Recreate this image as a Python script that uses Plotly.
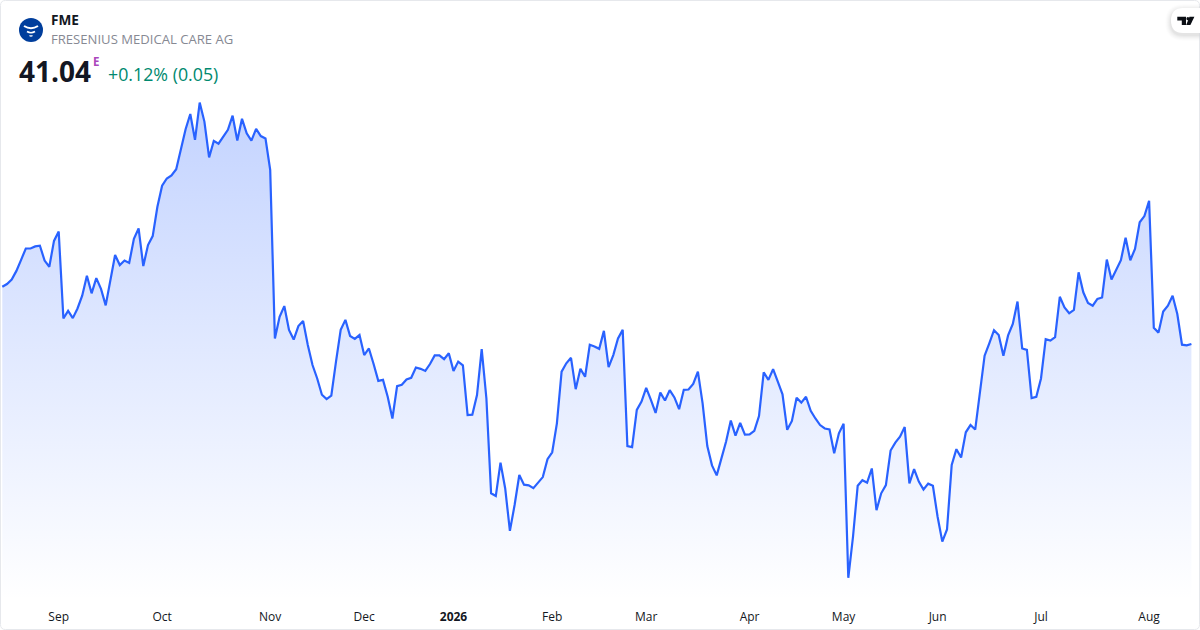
import plotly.graph_objects as go

symbol = "FME"
company = "FRESENIUS MEDICAL CARE AG"
last_price = "41.04"
change_text = "+0.12% (0.05)"
session_flag = "E"

prices = [
    42.70, 42.78, 42.91, 43.16, 43.48, 43.81, 43.81, 43.87, 43.89, 43.46, 43.28, 44.03, 44.30,
    41.78, 42.00, 41.79, 42.07, 42.44, 43.02, 42.51, 42.95, 42.64, 42.16, 42.90, 43.62, 43.33,
    43.46, 43.39, 44.09, 44.39, 43.30, 43.91, 44.17, 45.02, 45.63, 45.84, 45.93, 46.11, 46.67,
    47.27, 47.71, 46.96, 48.04, 47.49, 46.45, 46.93, 46.85, 47.07, 47.25, 47.66, 46.94, 47.57,
    47.15, 46.94, 47.28, 47.07, 47.00, 46.09, 41.20, 41.83, 42.14, 41.45, 41.17, 41.56,
    41.71, 41.01, 40.43, 40.04, 39.57, 39.44, 39.54, 40.53, 41.45, 41.74, 41.27, 41.19, 41.30,
    40.72, 40.91, 40.46, 39.97, 40.00, 39.51, 38.88, 39.82, 39.86, 40.01, 40.06, 40.36, 40.32,
    40.26, 40.46, 40.71, 40.71, 40.60, 40.77, 40.26, 40.53, 40.42, 38.98, 38.99, 39.56, 40.89,
    39.46, 36.71, 36.63, 37.60, 36.85, 35.62, 36.37, 37.24, 36.96, 36.94, 36.86, 37.02, 37.18,
    37.70, 37.90, 38.74,
    40.24, 40.48, 40.64, 39.73, 40.32, 40.09, 41.02, 40.97, 40.90, 41.42, 40.37, 40.72, 41.20,
    41.45, 38.08, 38.05, 39.13, 39.37, 39.77, 39.42, 39.04, 39.63, 39.40, 39.70, 39.49, 39.15,
    39.71, 39.72, 39.88, 40.24, 39.32, 38.08, 37.52, 37.23, 37.70, 38.21, 38.82, 38.38, 38.75,
    38.41, 38.42, 38.52, 38.95, 40.22, 40.00, 40.31, 39.95, 39.58, 38.55, 38.81, 39.48, 39.34,
    39.51, 39.10, 38.88, 38.69, 38.59, 38.56, 37.87, 38.45, 38.73,
    34.26, 35.45, 36.93, 37.09, 37.02, 37.43, 36.22, 36.71, 36.95, 37.95, 38.18, 38.35, 38.63,
    37.00, 37.41, 37.05, 36.82, 36.99, 36.93, 36.03, 35.31, 35.66, 37.53, 37.99, 37.75, 38.48,
    38.69, 38.56, 39.61, 40.70, 41.06, 41.44, 41.30, 40.70, 41.29, 41.62, 42.27, 40.91, 40.87,
    39.47, 39.51, 40.04, 41.18, 41.14, 41.24, 42.41, 42.10, 41.93, 42.03, 43.12, 42.54, 42.23,
    42.15, 42.35, 42.39, 43.49, 42.91, 43.17, 43.47, 44.12, 43.47, 43.80, 44.57, 44.75, 45.19,
    41.51, 41.37, 41.98, 42.15, 42.44, 41.91, 41.02, 41.00, 41.04,
]
session_index = list(range(len(prices)))

tick_sessions = [12, 34, 57, 77, 96, 117, 137, 159, 179, 199, 221, 244]
tick_labels = ["Sep", "Oct", "Nov", "Dec", "<b>2026</b>", "Feb", "Mar", "Apr", "May", "Jun", "Jul", "Aug"]

W, H = 1200, 630
MARGIN_B = 30
PLOT_H = H - MARGIN_B
FONT = "Open Sans"
LINE = "#2962FF"


# paper coordinates span the plot area, not the whole figure
def px(x):
    return x / W


def py(y):
    return (PLOT_H - y) / PLOT_H


def path(*parts):
    out = []
    for p in parts:
        if isinstance(p, str):
            out.append(p)
        else:
            out.append(f"{px(p[0]):.5f},{py(p[1]):.5f}")
    return " ".join(out)


fig = go.Figure()
fig.add_trace(go.Scatter(
    x=session_index,
    y=prices,
    mode="lines",
    line=dict(color=LINE, width=2.2, shape="linear"),
    fill="tozeroy",
    fillgradient=dict(
        type="vertical",
        start=max(prices),
        stop=33.616,
        colorscale=[[0, "rgba(41,98,255,0.28)"], [1, "rgba(41,98,255,0)"]],
    ),
    hoverinfo="skip",
    showlegend=False,
))


def note(text, x, y, size, color):
    fig.add_annotation(
        xref="paper", yref="paper", x=px(x), y=py(y), text=text, showarrow=False,
        xanchor="left", yanchor="middle", align="left", borderpad=0, xshift=-1,
        font=dict(family=FONT, size=size, color=color),
    )


note(f"<b>{symbol}</b>", 51, 20, 13.6, "#131722")
note(company, 51, 39.5, 13.1, "#868993")
note(f"<b>{last_price}</b>", 19, 71, 28, "#131722")
note(f"<b>{session_flag}</b>", 93, 61.5, 11.5, "#AB47BC")
note(change_text, 108, 74, 17.8, "#00896F")

shapes = []
# card border
r = 5
shapes.append(dict(
    type="path", xref="paper", yref="paper", layer="above",
    path=path("M", (0.5 + r, 0.5), "L", (W - 0.5 - r, 0.5), "Q", (W - 0.5, 0.5), (W - 0.5, 0.5 + r),
              "L", (W - 0.5, H - 0.5 - r), "Q", (W - 0.5, H - 0.5), (W - 0.5 - r, H - 0.5),
              "L", (0.5 + r, H - 0.5), "Q", (0.5, H - 0.5), (0.5, H - 0.5 - r),
              "L", (0.5, 0.5 + r), "Q", (0.5, 0.5), (0.5 + r, 0.5), "Z"),
    line=dict(color="#E6E8EC", width=1), fillcolor="rgba(0,0,0,0)",
))
# logo disc
shapes.append(dict(
    type="circle", xref="paper", yref="paper", layer="above",
    x0=px(19), x1=px(43), y0=py(42), y1=py(18),
    fillcolor="#003E9C", line=dict(width=0),
))
# logo funnel strokes
for x0, x1, y0, dip, w in [(24, 38, 26, 4.5, 2), (27, 35, 31.5, 2.5, 1.6), (29.5, 32.5, 35.5, 1.2, 1.4)]:
    shapes.append(dict(
        type="path", xref="paper", yref="paper", layer="above",
        path=path("M", (x0, y0), "Q", ((x0 + x1) / 2, y0 + dip), (x1, y0)),
        line=dict(color="#FFFFFF", width=w), fillcolor="rgba(0,0,0,0)",
    ))
# TradingView badge: soft shadow, white pill, glyph
for grow, alpha in [(6, 0.008), (5, 0.012), (4, 0.016), (3, 0.02), (2, 0.024), (1, 0.028)]:
    shapes.append(dict(
        type="path", xref="paper", yref="paper", layer="above",
        path=path("M", (W - 0.5, 8 - grow + 2), "L", (1183, 8 - grow + 2),
                  "Q", (1171 - grow, 8 - grow + 2), (1171 - grow, 20.5 + 2),
                  "Q", (1171 - grow, 33 + grow + 2), (1183, 33 + grow + 2),
                  "L", (W - 0.5, 33 + grow + 2), "Z"),
        fillcolor=f"rgba(0,0,0,{alpha})", line=dict(width=0),
    ))
shapes.append(dict(
    type="path", xref="paper", yref="paper", layer="above",
    path=path("M", (W, 8), "L", (1183, 8), "Q", (1171, 8), (1171, 20.5),
              "Q", (1171, 33), (1183, 33), "L", (W, 33), "Z"),
    fillcolor="#FFFFFF", line=dict(width=0),
))
shapes.append(dict(
    type="path", xref="paper", yref="paper", layer="above",
    path=path("M", (1177.3, 16.8), "L", (1186, 16.8), "L", (1186, 25), "L", (1181.8, 25),
              "L", (1181.8, 20.4), "L", (1177.3, 20.4), "Z"),
    fillcolor="#0B0E14", line=dict(width=0),
))
shapes.append(dict(
    type="path", xref="paper", yref="paper", layer="above",
    path=path("M", (1189.5, 16.8), "L", (1194.4, 16.8), "L", (1190.4, 25), "L", (1186.2, 25), "Z"),
    fillcolor="#0B0E14", line=dict(width=0),
))
shapes.append(dict(
    type="circle", xref="paper", yref="paper", layer="above",
    x0=px(1186.4), x1=px(1189.4), y0=py(20.3), y1=py(17.1),
    fillcolor="#0B0E14", line=dict(width=0),
))

fig.update_layout(
    width=W,
    height=H,
    margin=dict(l=0, r=0, t=0, b=MARGIN_B, pad=0),
    paper_bgcolor="#FFFFFF",
    plot_bgcolor="#FFFFFF",
    showlegend=False,
    shapes=shapes,
    font=dict(family=FONT, size=12, color="#131722"),
    xaxis=dict(
        range=[-0.49, 254.83],
        tickmode="array",
        tickvals=tick_sessions,
        ticktext=tick_labels,
        showgrid=False,
        zeroline=False,
        showline=False,
        ticks="outside",
        ticklen=6,
        tickcolor="rgba(0,0,0,0)",
        tickfont=dict(family=FONT, size=12, color="#131722"),
        fixedrange=True,
    ),
    yaxis=dict(
        range=[33.616, 51.016],
        showgrid=False,
        zeroline=False,
        showline=False,
        showticklabels=False,
        ticks="",
        fixedrange=True,
    ),
)

fig.write_html(
    "out.html",
    config={"displayModeBar": False},
    post_script="document.body.style.margin='0';document.body.style.overflow='hidden';",
)
